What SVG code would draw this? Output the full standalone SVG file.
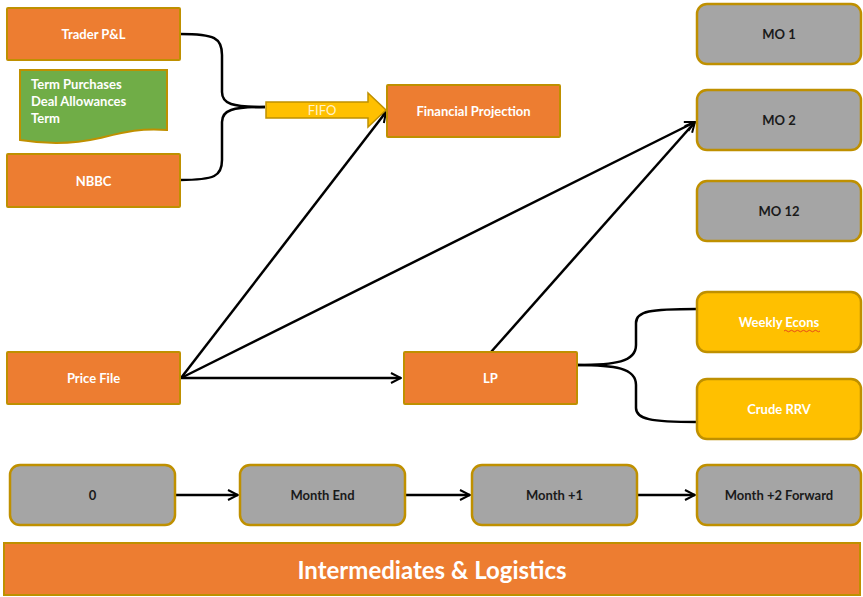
<svg xmlns="http://www.w3.org/2000/svg" width="863" height="597" viewBox="0 0 863 597">
  <style>
    .orange { fill: #ED7D31; stroke: #BF9000; stroke-width: 2; }
    .gray { fill: #A5A5A5; stroke: #BF9000; stroke-width: 2.5; }
    .gold { fill: #FFC000; stroke: #BF9000; stroke-width: 2.5; }
    .green { fill: #70AD47; stroke: #BF9000; stroke-width: 2; }
    .lbl { font-family: Lato, "Open Sans", "Liberation Sans", sans-serif; font-weight: bold; font-size: 13px; text-anchor: middle; dominant-baseline: central; }
    .w { fill: #FFFFFF; }
    .d { fill: #1A1A1A; }
    .conn { fill: none; stroke: #000000; stroke-width: 2.5; }
    .brace { fill: none; stroke: #000000; stroke-width: 2.5; }
  </style>
  <defs>
    <marker id="open" viewBox="0 0 10 10" refX="9" refY="5" markerWidth="5" markerHeight="5" orient="auto" markerUnits="strokeWidth">
      <path d="M1,1 L9,5 L1,9" fill="none" stroke="#000" stroke-width="1.6" stroke-linejoin="miter"/>
    </marker>
  </defs>

  <rect width="863" height="597" fill="#FFFFFF"/>

  <!-- connectors -->
  <g id="connectors">
    <!-- brace gathering the left inputs into FIFO -->
    <path class="brace" d="M180,34 C215,34 222,38 222,55 L222,92 C222,104 232,107 265,107"/>
    <path class="brace" d="M180,180 C215,180 222,176 222,160 L222,122 C222,110 232,107 265,107"/>
    <!-- brace splitting LP into the two econ inputs -->
    <path class="brace" d="M577,365 C615,365 636,362 636,345 L636,323 C636,311 650,309 697,309"/>
    <path class="brace" d="M577,365 C615,365 636,368 636,385 L636,408 C636,419 650,422 697,422"/>
    <!-- arrows -->
    <line class="conn" x1="181" y1="378" x2="386" y2="112" marker-end="url(#open)"/>
    <line class="conn" x1="181" y1="378" x2="695" y2="122" marker-end="url(#open)"/>
    <line class="conn" x1="491" y1="352" x2="695" y2="122" marker-end="url(#open)"/>
    <line class="conn" x1="181" y1="378" x2="401" y2="378" marker-end="url(#open)"/>
    <line class="conn" x1="176" y1="495" x2="238" y2="495" marker-end="url(#open)"/>
    <line class="conn" x1="406" y1="495" x2="470" y2="495" marker-end="url(#open)"/>
    <line class="conn" x1="638" y1="495" x2="695" y2="495" marker-end="url(#open)"/>
  </g>

  <g id="trader-pl">
    <rect class="orange" x="7" y="8" width="173" height="52" rx="1"/>
    <text class="lbl w" x="93.5" y="34">Trader P&amp;L</text>
  </g>

  <g id="term-purchases">
    <path class="green" d="M20,70 L167,70 L167,130 C140,128 125,132 100,138 C70,145 45,144 20,140 Z"/>
    <text class="lbl w" x="31" y="84" style="text-anchor:start">Term Purchases</text>
    <text class="lbl w" x="31" y="101" style="text-anchor:start">Deal Allowances</text>
    <text class="lbl w" x="31" y="118" style="text-anchor:start">Term</text>
  </g>

  <g id="nbbc">
    <rect class="orange" x="7" y="154" width="173" height="53" rx="1"/>
    <text class="lbl w" x="93.5" y="181">NBBC</text>
  </g>

  <g id="fifo">
    <path class="gold" style="stroke-width:1.5" d="M266,102 L368,102 L368,93 L386,110 L368,127 L368,118 L266,118 Z"/>
    <text class="lbl" x="322" y="110" style="fill:#FFF2CC;font-weight:normal;font-size:13px">FIFO</text>
  </g>

  <g id="financial-projection">
    <rect class="orange" x="387" y="85" width="173" height="52" rx="1"/>
    <text class="lbl w" x="473.5" y="111">Financial Projection</text>
  </g>

  <g id="mo-1">
    <rect class="gray" x="697" y="4" width="164" height="60" rx="10"/>
    <text class="lbl d" x="779" y="34">MO 1</text>
  </g>
  <g id="mo-2">
    <rect class="gray" x="697" y="90" width="164" height="60" rx="10"/>
    <text class="lbl d" x="779" y="120">MO 2</text>
  </g>
  <g id="mo-12">
    <rect class="gray" x="697" y="181" width="164" height="60" rx="10"/>
    <text class="lbl d" x="779" y="211">MO 12</text>
  </g>

  <g id="price-file">
    <rect class="orange" x="7" y="352" width="173" height="52" rx="1"/>
    <text class="lbl w" x="93.5" y="378">Price File</text>
  </g>

  <g id="lp">
    <rect class="orange" x="404" y="352" width="173" height="52" rx="1"/>
    <text class="lbl w" x="490.5" y="378">LP</text>
  </g>

  <g id="weekly-econs">
    <rect class="gold" x="697" y="292" width="164" height="60" rx="10"/>
    <text class="lbl w" x="779" y="322">Weekly Econs</text>
    <path d="M784,331 q1.5,-1.5 3,0 t3,0 t3,0 t3,0 t3,0 t3,0 t3,0 t3,0 t3,0 t3,0 t3,0 t3,0" fill="none" stroke="#E0301E" stroke-width="0.8"/>
  </g>

  <g id="crude-rrv">
    <rect class="gold" x="697" y="379" width="164" height="60" rx="10"/>
    <text class="lbl w" x="779" y="409">Crude RRV</text>
  </g>

  <g id="month-0">
    <rect class="gray" x="10" y="465" width="165" height="60" rx="10"/>
    <text class="lbl d" x="92.5" y="495">0</text>
  </g>
  <g id="month-end">
    <rect class="gray" x="240" y="465" width="165" height="60" rx="10"/>
    <text class="lbl d" x="322.5" y="495">Month End</text>
  </g>
  <g id="month-plus-1">
    <rect class="gray" x="472" y="465" width="165" height="60" rx="10"/>
    <text class="lbl d" x="554.5" y="495">Month +1</text>
  </g>
  <g id="month-plus-2">
    <rect class="gray" x="697" y="465" width="164" height="60" rx="10"/>
    <text class="lbl d" x="779" y="495">Month +2 Forward</text>
  </g>

  <g id="banner">
    <rect class="orange" x="4" y="543" width="856" height="52"/>
    <text class="lbl w" x="432" y="569" style="font-size:24px">Intermediates &amp; Logistics</text>
  </g>
</svg>
